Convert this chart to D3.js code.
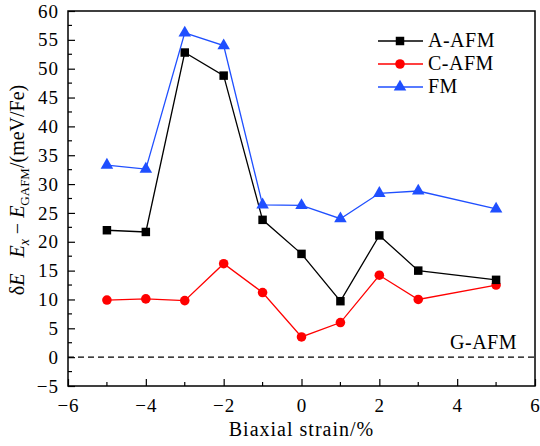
<!DOCTYPE html>
<html>
<head>
<meta charset="utf-8">
<script src="https://cdn.jsdelivr.net/npm/d3@7"></script>
<style>
  body { margin: 0; background: #fff; }
  svg text { font-family: "Liberation Serif", "DejaVu Serif", serif; }
</style>
</head>
<body>
<div id="chart"></div>
<script>
var strain = [-5, -4, -3, -2, -1, 0, 1, 2, 3, 5];
var aAfm = [22.0, 21.7, 52.8, 48.8, 23.8, 17.9, 9.7, 21.1, 15.0, 13.4];
var cAfm = [9.9, 10.1, 9.8, 16.2, 11.2, 3.5, 6.0, 14.2, 10.0, 12.5];
var fm = [33.3, 32.6, 56.2, 54.0, 26.4, 26.3, 24.0, 28.4, 28.8, 25.7];
var xTicks = [-6, -4, -2, 0, 2, 4, 6];
var yTicks = [-5, 0, 5, 10, 15, 20, 25, 30, 35, 40, 45, 50, 55, 60];

var W = 540, H = 446;
var margin = {top: 11, right: 5, bottom: 60, left: 68};
var serif = "'Liberation Serif', 'DejaVu Serif', serif";

var svg = d3.select("#chart").append("svg")
  .attr("width", W)
  .attr("height", H);

var x = d3.scaleLinear().domain([-6, 6]).range([margin.left, W - margin.right]);
var y = d3.scaleLinear().domain([-5, 60]).range([H - margin.bottom, margin.top]);

// frame
svg.append("rect")
  .attr("x", x(-6)).attr("y", y(60))
  .attr("width", x(6) - x(-6)).attr("height", y(-5) - y(60))
  .attr("fill", "none").attr("stroke", "#000").attr("stroke-width", 1.5);

// minor ticks
var xMinor = d3.range(-5, 6, 2);
svg.selectAll(".xminor").data(xMinor).enter().append("line")
  .attr("x1", function(d){ return x(d); }).attr("x2", function(d){ return x(d); })
  .attr("y1", y(-5)).attr("y2", y(-5) - 4)
  .attr("stroke", "#000").attr("stroke-width", 1.2);
var yMinor = d3.range(-2.5, 60, 5);
svg.selectAll(".yminor").data(yMinor).enter().append("line")
  .attr("x1", x(-6)).attr("x2", x(-6) + 4)
  .attr("y1", function(d){ return y(d); }).attr("y2", function(d){ return y(d); })
  .attr("stroke", "#000").attr("stroke-width", 1.2);

// major axes (ticks inward)
var xAxis = svg.append("g")
  .attr("transform", "translate(0," + y(-5) + ")")
  .call(d3.axisBottom(x).tickValues(xTicks).tickSizeInner(-7).tickSizeOuter(0).tickPadding(13));
var yAxis = svg.append("g")
  .attr("transform", "translate(" + x(-6) + ",0)")
  .call(d3.axisLeft(y).tickValues(yTicks).tickSizeInner(-7).tickSizeOuter(0).tickPadding(9));
[xAxis, yAxis].forEach(function(a){
  a.attr("font-family", serif);
  a.select(".domain").remove();
  a.selectAll(".tick line").attr("stroke-width", 1.2);
  a.selectAll(".tick text")
    .style("font-family", serif)
    .style("font-size", "19px")
    .style("letter-spacing", "1px")
    .attr("fill", "#000");
});

// dashed zero line
svg.append("line")
  .attr("x1", x(-6)).attr("x2", x(6))
  .attr("y1", y(0)).attr("y2", y(0))
  .attr("stroke", "#000").attr("stroke-width", 1.2)
  .attr("stroke-dasharray", "6,4");

svg.append("text")
  .attr("x", 517).attr("y", 349)
  .attr("text-anchor", "end")
  .style("font-size", "20px")
  .style("letter-spacing", "0.5px")
  .text("G-AFM");

var series = [
  {name: "A-AFM", vals: aAfm, color: "#000000", sym: d3.symbolSquare, size: 72},
  {name: "C-AFM", vals: cAfm, color: "#ff0000", sym: d3.symbolCircle, size: 72},
  {name: "FM", vals: fm, color: "#1f4fff", sym: d3.symbolTriangle, size: 68}
];

var line = d3.line()
  .x(function(d){ return x(d[0]); })
  .y(function(d){ return y(d[1]); });

// draw in order C, A, FM so markers overlap like reference
[series[1], series[0], series[2]].forEach(function(s){
  var pts = strain.map(function(v, i){ return [v, s.vals[i]]; });
  svg.append("path")
    .attr("d", line(pts))
    .attr("fill", "none")
    .attr("stroke", s.color)
    .attr("stroke-width", 1.3);
  svg.selectAll(null).data(pts).enter().append("path")
    .attr("transform", function(d){ return "translate(" + x(d[0]) + "," + y(d[1]) + ")"; })
    .attr("d", d3.symbol().type(s.sym).size(s.size))
    .attr("fill", s.color);
});

// legend
var leg = svg.append("g");
series.forEach(function(s, i){
  var ly = 41 + i * 23;
  leg.append("line")
    .attr("x1", 378).attr("x2", 423)
    .attr("y1", ly).attr("y2", ly)
    .attr("stroke", s.color).attr("stroke-width", 1.3);
  leg.append("path")
    .attr("transform", "translate(400," + ly + ")")
    .attr("d", d3.symbol().type(s.sym).size(s.size))
    .attr("fill", s.color);
  leg.append("text")
    .attr("x", 428).attr("y", ly + 6)
    .style("font-size", "20px")
    .style("letter-spacing", "0.5px")
    .text(s.name);
});

// axis titles
svg.append("text")
  .attr("x", x(0)).attr("y", 436)
  .attr("text-anchor", "middle")
  .style("font-size", "20px")
  .style("letter-spacing", "1px")
  .text("Biaxial strain/%");

var yt = svg.append("text")
  .attr("transform", "translate(24,190) rotate(-90)")
  .attr("text-anchor", "middle")
  .style("font-size", "20px");
yt.append("tspan").text("δ");
yt.append("tspan").style("font-style", "italic").text("E");
yt.append("tspan").attr("dx", 16).style("font-style", "italic").text("E");
yt.append("tspan").style("font-style", "italic").style("font-size", "14px").attr("dy", 5).text("x");
yt.append("tspan").attr("dy", -5).text(" − ");
yt.append("tspan").style("font-style", "italic").text("E");
yt.append("tspan").style("font-size", "13px").attr("dy", 5).text("GAFM");
yt.append("tspan").attr("dy", -5).text("/(meV/Fe)");
</script>
</body>
</html>
